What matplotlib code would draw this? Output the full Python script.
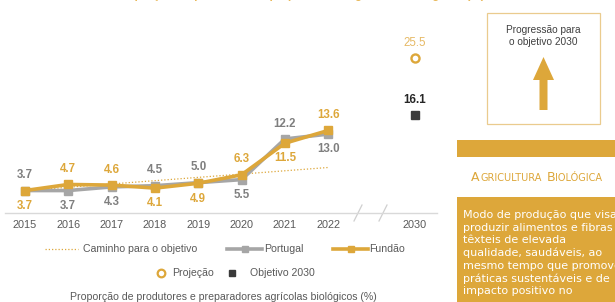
import matplotlib
matplotlib.use("Agg")
import matplotlib.pyplot as plt
from matplotlib.patches import Rectangle, Polygon
from matplotlib.textpath import TextPath

plt.rcParams['font.family'] = ['Liberation Sans', 'DejaVu Sans']

# ---------------- data ----------------
years = ['2015', '2016', '2017', '2018', '2019', '2020', '2021', '2022']
portugal = [3.7, 3.7, 4.3, 4.5, 5.0, 5.5, 12.2, 13.0]
fundao = [3.7, 4.7, 4.6, 4.1, 4.9, 6.3, 11.5, 13.6]
portugal_label_side = ['above', 'below', 'below', 'above', 'above', 'below', 'above', 'below']
fundao_label_side = ['below', 'above', 'above', 'below', 'below', 'above', 'below', 'above']
path_years = ['2015', '2022']
path_values = [3.7, 7.5]
target_year = '2030'
projection_2030 = 25.5
objective_2030 = 16.1

ORANGE = '#DDA73A'
GRAY = '#A6A6A6'
GRAY_TXT = '#7F7F7F'
DARK = '#3A3A3A'
TXT = '#595959'

fig = plt.figure(figsize=(6.15, 3.02), dpi=100)

# overlay in pixel coordinates for decorations
ov = fig.add_axes([0, 0, 1, 1], zorder=0)
ov.set_xlim(0, 615)
ov.set_ylim(302, 0)
ov.axis('off')

# ---------------- main chart ----------------
ax = fig.add_axes([5 / 615, (302 - 213) / 302, 432 / 615, 193 / 302], zorder=2)
ax.patch.set_alpha(0)
xpos = list(range(len(years)))
x2030 = len(years) + 1
ax.set_xlim(-0.46, 9.51)
ax.set_ylim(0, 31.8)
for s in ['top', 'right', 'left']:
    ax.spines[s].set_visible(False)
ax.spines['bottom'].set_color('#D9D9D9')
ax.spines['bottom'].set_linewidth(1)
ax.set_yticks([])
ax.set_xticks(xpos + [x2030])
ax.set_xticklabels(years + [target_year], fontsize=7.8, color=TXT)
ax.tick_params(axis='x', length=0, pad=5)

px = [years.index(y) for y in path_years]
ax.plot(px, path_values, color=ORANGE, lw=0.9, ls=(0, (1, 1.6)), zorder=2)
ax.plot(xpos, portugal, color=GRAY, lw=2.6, marker='s', ms=5.8, zorder=3)
ax.plot(xpos, fundao, color=ORANGE, lw=2.6, marker='s', ms=5.8, zorder=4)

def lab(x, y, side, color, weight='bold'):
    off = 11 if side == 'above' else -11
    ax.annotate(f'{y:.1f}', (x, y), xytext=(0, off), textcoords='offset points',
                ha='center', va='center', fontsize=8.3, color=color, fontweight=weight)

for x, v, s in zip(xpos, portugal, portugal_label_side):
    lab(x, v, s, GRAY_TXT)
for x, v, s in zip(xpos, fundao, fundao_label_side):
    lab(x, v, s, ORANGE)

ax.plot([x2030], [projection_2030], marker='o', ms=5.8, mfc='white', mec=ORANGE, mew=1.7, ls='none')
ax.plot([x2030], [objective_2030], marker='s', ms=5.5, color=DARK, ls='none')
lab(x2030, projection_2030, 'above', '#E6B965', weight='normal')
lab(x2030, objective_2030, 'above', '#262626')

# axis break marks
for bx in (358, 383):
    ov.plot([bx - 4, bx + 4], [221, 205], color='#CFCFCF', lw=0.9)

# ---------------- legend ----------------
ly1 = 249
ov.plot([45, 78], [ly1, ly1], color=ORANGE, lw=0.9, ls=(0, (1, 1.6)))
ov.text(83, ly1, 'Caminho para o objetivo', fontsize=7.6, color=TXT, va='center', ha='left')
ov.plot([227, 262], [ly1, ly1], color=GRAY, lw=2.6)
ov.plot([244.5], [ly1], color=GRAY, marker='s', ms=5)
ov.text(264, ly1, 'Portugal', fontsize=7.6, color=TXT, va='center', ha='left')
ov.plot([333, 368], [ly1, ly1], color=ORANGE, lw=2.6)
ov.plot([350.5], [ly1], color=ORANGE, marker='s', ms=5)
ov.text(369, ly1, 'Fundão', fontsize=7.6, color=TXT, va='center', ha='left')

ly2 = 273
ov.plot([161], [ly2], marker='o', ms=5.5, mfc='white', mec=ORANGE, mew=1.6)
ov.text(172, ly2, 'Projeção', fontsize=7.6, color=TXT, va='center', ha='left')
ov.plot([232], [ly2], marker='s', ms=5, color=DARK)
ov.text(250, ly2, 'Objetivo 2030', fontsize=7.6, color=TXT, va='center', ha='left')

ov.text(223, 297, 'Proporção de produtores e preparadores agrícolas biológicos (%)',
        fontsize=7.6, color=TXT, va='center', ha='center')

# partially visible title at the very top (cut off like the reference)
ov.text(485, -5, 'Gráfico 2.1.4: Proporção de produtores e preparadores agrícolas biológicos (%)',
        fontsize=8.5, color='#E8B859', fontweight='bold', va='center', ha='right')

# ---------------- right panel ----------------
ov.add_patch(Rectangle((487, 13), 113, 111, fill=False, ec='#EACB8E', lw=0.9))
ov.text(543.5, 36, 'Progressão para\no objetivo 2030', fontsize=7.3, color='#404040',
        ha='center', va='center', linespacing=1.15)
arrow = Polygon([(543.5, 57), (554, 80), (547.5, 80), (547.5, 110), (539.5, 110),
                 (539.5, 80), (533, 80)], closed=True, color=ORANGE, lw=0)
ov.add_patch(arrow)

ov.add_patch(Rectangle((457, 140), 160, 17, color=ORANGE, lw=0))

# small-caps heading
heading_parts = [('A', 9.0), ('GRICULTURA', 7.0), (' ', 7.0), ('B', 9.0), ('IOLÓGICA', 7.0)]
xcur = 471
for t, fs in heading_parts:
    if t.strip():
        ov.text(xcur, 181, t, fontsize=fs, color=ORANGE, va='baseline', ha='left',
                family='DejaVu Sans')
        w = TextPath((0, 0), t, size=fs * 100 / 72, prop='DejaVu Sans').get_extents().width
        xcur += w + 1.5
    else:
        xcur += 4

ov.add_patch(Rectangle((457, 197), 160, 110, color=ORANGE, lw=0))
body = ['Modo de produção que visa', 'produzir alimentos e fibras', 'têxteis de elevada',
        'qualidade, saudáveis, ao', 'mesmo tempo que promove', 'práticas sustentáveis e de',
        'impacto positivo no']
for i, line in enumerate(body):
    ov.text(463, 215 + i * 12.7, line, fontsize=8.0, color='white', va='center', ha='left',
            family='DejaVu Sans', clip_on=True)

fig.savefig('out.png', dpi=100)
